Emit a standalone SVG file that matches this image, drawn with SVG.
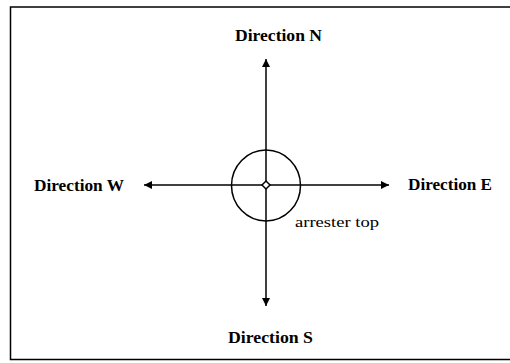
<svg xmlns="http://www.w3.org/2000/svg" width="510" height="363" viewBox="0 0 510 363">
<style>
.lbl{font-family:"Liberation Serif","Times New Roman",serif;font-weight:bold;font-size:16px;fill:#000}
.note{font-family:"Liberation Serif","Times New Roman",serif;font-size:15px;fill:#000}
.ln{stroke:#000;stroke-width:1.5;fill:none}
</style>
<defs>
<marker id="ah" viewBox="0 0 10 10" refX="10" refY="5" markerWidth="11" markerHeight="8" markerUnits="userSpaceOnUse" orient="auto">
<path d="M0,0 L10,5 L0,10 Z" fill="#000"/>
</marker>
</defs>
<rect x="0" y="0" width="510" height="363" fill="#fff"/>
<g id="frame">
<path d="M510,7 H10.5 V359.5 H510" class="ln" stroke-width="2"/>
</g>
<g id="connectors">
<line x1="266" y1="185" x2="266" y2="59" class="ln" marker-end="url(#ah)"/>
<line x1="266" y1="185" x2="266" y2="306" class="ln" marker-end="url(#ah)"/>
<line x1="266" y1="185" x2="144" y2="185" class="ln" marker-end="url(#ah)"/>
<line x1="266" y1="185" x2="389" y2="185" class="ln" marker-end="url(#ah)"/>
</g>
<g id="arrester">
<ellipse cx="266" cy="185.5" rx="34.5" ry="35.5" class="ln"/>
<path d="M266,181 L270,185 L266,189 L262,185 Z" fill="#fff" stroke="#000" stroke-width="1.5"/>
<text x="295" y="227" class="note" textLength="84" lengthAdjust="spacingAndGlyphs">arrester top</text>
</g>
<g id="north"><text x="235" y="41" class="lbl" textLength="87" lengthAdjust="spacingAndGlyphs">Direction N</text></g>
<g id="south"><text x="228" y="343" class="lbl" textLength="85" lengthAdjust="spacingAndGlyphs">Direction S</text></g>
<g id="west"><text x="34" y="191" class="lbl" textLength="90" lengthAdjust="spacingAndGlyphs">Direction W</text></g>
<g id="east"><text x="408" y="190" class="lbl" textLength="84" lengthAdjust="spacingAndGlyphs">Direction E</text></g>
</svg>
